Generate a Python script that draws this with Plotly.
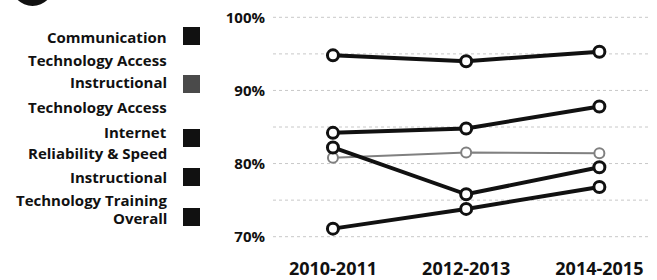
import plotly.graph_objects as go

years = ["2010-2011", "2012-2013", "2014-2015"]
series_names = [
    "Communication<br>Technology Access",
    "Instructional<br>Technology Access",
    "Internet<br>Reliability & Speed",
    "Instructional<br>Technology Training",
    "Overall",
]
comm_access = [94.8, 94.0, 95.3]
instr_access = [80.8, 81.5, 81.4]
internet = [84.2, 84.8, 87.8]
instr_training = [82.2, 75.8, 79.5]
overall = [71.1, 73.8, 76.8]
y_ticks = [70, 80, 90, 100]
y_tick_labels = ["70%", "80%", "90%", "100%"]
grid_vals = [70, 75, 80, 85, 90, 95, 100]

values = [comm_access, instr_access, internet, instr_training, overall]
colors = ["#111111", "#808080", "#111111", "#111111", "#111111"]
swatch_colors = ["#111111", "#4a4a4a", "#111111", "#111111", "#111111"]
widths = [4, 2, 4, 4, 4]

W, H = 657, 280
L, R, T, B = 273, 7, 10, 36
pw, ph = W - L - R, H - T - B

def px(x):
    return (x - L) / pw

def py(y):
    return 1 - (y - T) / ph

FONT = "Open Sans, Lato, sans-serif"

fig = go.Figure()
order = [1, 0, 2, 3, 4]
for i in order:
    fig.add_trace(go.Scatter(
        x=years, y=values[i], mode="lines+markers",
        name=series_names[i].replace("<br>", " "),
        line=dict(color=colors[i], width=widths[i]),
        marker=dict(symbol="circle", size=11 if widths[i] > 2 else 10,
                    color="white",
                    line=dict(color=colors[i], width=3 if widths[i] > 2 else 2)),
        showlegend=False, hoverinfo="skip",
    ))

for g in grid_vals:
    fig.add_shape(type="line", xref="paper", yref="y", x0=0, x1=1, y0=g, y1=g,
                  line=dict(color="#c8c8c8", width=1, dash="dot"), layer="below")

legend_lines = [[37, 60], [82, 107], [132, 153], [177, 200], [218]]
legend_sq = [36, 84, 138, 177, 217]
font = dict(family=FONT, size=15, color="#111111")
for i, name in enumerate(series_names):
    parts = name.split("<br>")
    for part, yy in zip(parts, legend_lines[i]):
        fig.add_annotation(text="<b>" + part + "</b>", xref="paper", yref="paper",
                           x=px(168), y=py(yy), xanchor="right", yanchor="middle",
                           showarrow=False, font=font, borderpad=0)
    c = legend_sq[i]
    fig.add_shape(type="rect", xref="paper", yref="paper",
                  x0=px(183), x1=px(200), y0=py(c - 9), y1=py(c + 9),
                  fillcolor=swatch_colors[i], line=dict(width=0))

fig.add_shape(type="circle", xref="paper", yref="paper",
              x0=px(11), x1=px(54), y0=py(6), y1=py(-38),
              fillcolor="#111111", line=dict(width=0))

fig.update_layout(
    width=W, height=H,
    margin=dict(l=L, r=R, t=T, b=B),
    plot_bgcolor="white", paper_bgcolor="white",
    xaxis=dict(type="category", range=[-0.45, 2.38], showgrid=False, zeroline=False,
               showline=False, ticks="outside", ticklen=8, tickcolor="rgba(0,0,0,0)",
               automargin=False,
               tickfont=dict(family=FONT, size=18, color="#111111"),
               tickprefix="<b>", ticksuffix="</b>"),
    yaxis=dict(range=[69, 101], tickvals=y_ticks, ticktext=["<b>" + t + "</b>" for t in y_tick_labels],
               showgrid=False, zeroline=False, showline=False, ticks="outside", ticklen=4,
               tickcolor="rgba(0,0,0,0)", automargin=False,
               tickfont=dict(family=FONT, size=15, color="#111111")),
)

fig.write_html("out.html", config={"displayModeBar": False},
               post_script="document.body.style.margin='0';")
